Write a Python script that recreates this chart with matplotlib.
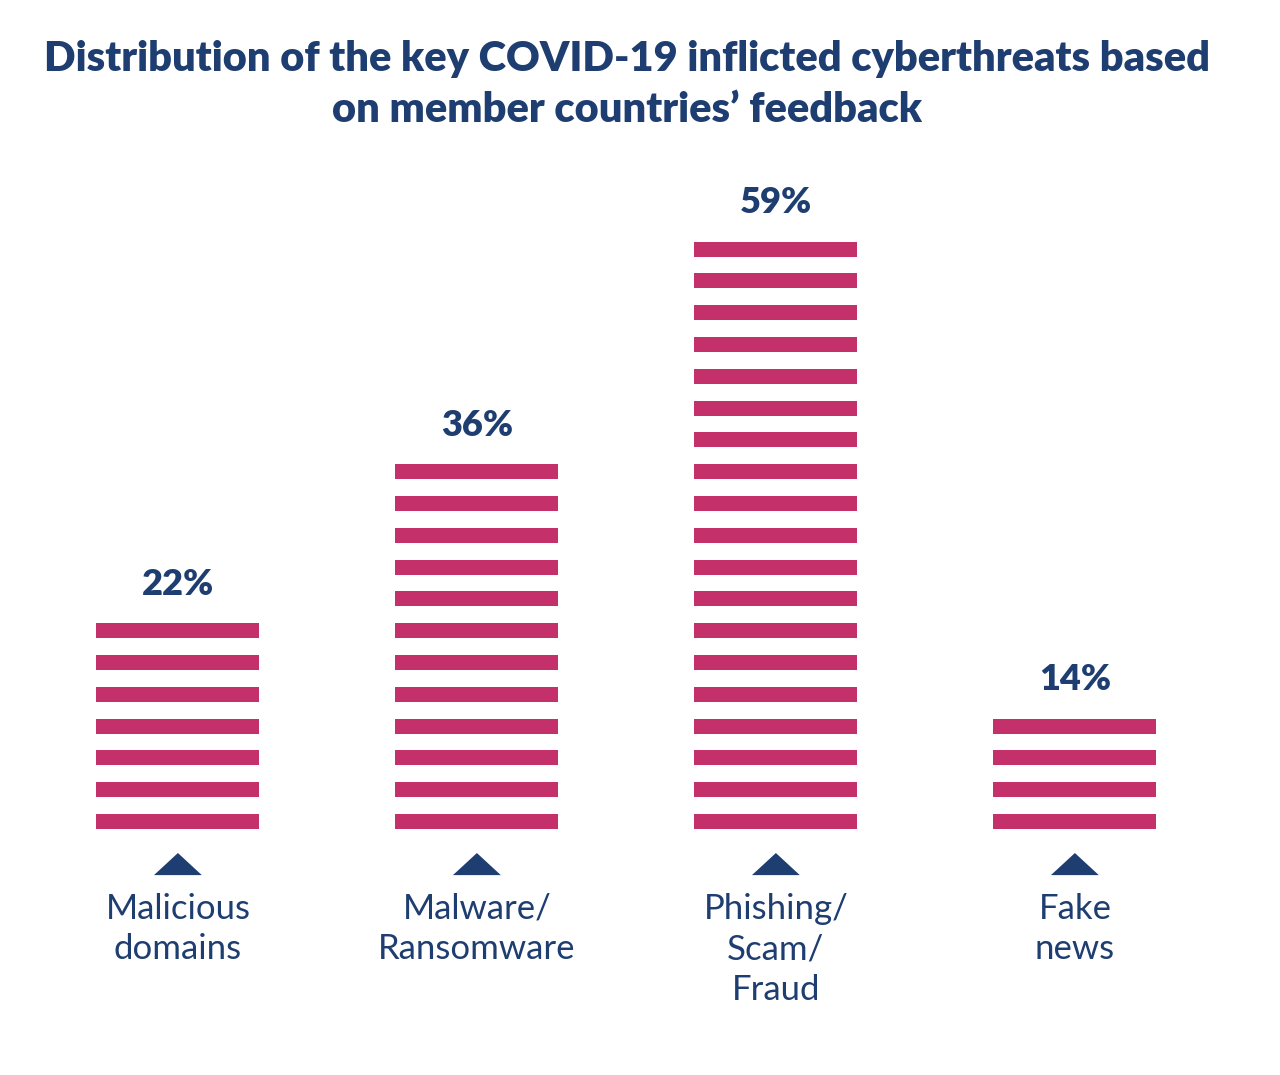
import matplotlib.pyplot as plt
from matplotlib.patches import Polygon

# data
categories = ["Malicious\ndomains", "Malware/\nRansomware", "Phishing/\nScam/\nFraud", "Fake\nnews"]
values = [22, 36, 59, 14]
stripe_counts = [7, 12, 19, 4]

title = "Distribution of the key COVID-19 inflicted cyberthreats based\non member countries\u2019 feedback"

pink = "#C3306A"
navy = "#1E3D70"

plt.rcParams['font.family'] = ['Lato', 'DejaVu Sans']

fig = plt.figure(figsize=(12.8, 10.75), dpi=100)
ax = fig.add_axes([0, 0, 1, 1])
ax.set_xlim(-0.595, 3.686)
ax.set_ylim(-7.736, 26.07)
ax.axis('off')

stripe_h = 0.47
bar_w = 0.545

for i, (val, n) in enumerate(zip(values, stripe_counts)):
    # each bar is a stack of thin stripes
    for k in range(n):
        ax.bar(i, stripe_h, bottom=k, width=bar_w, color=pink, linewidth=0)
    top = (n - 1) + stripe_h
    ax.text(i, top + 1.23, f"{val}%", ha='center', va='center',
            fontsize=26, fontweight='heavy', color=navy)
    # little pointer triangle under each bar
    tri = Polygon([(i - 0.08, -1.45), (i + 0.08, -1.45), (i, -0.755)],
                  closed=True, color=navy, linewidth=0)
    ax.add_patch(tri)
    ax.text(i, -2.0, categories[i], ha='center', va='top', fontsize=25,
            fontweight='normal', color=navy, linespacing=1.34)

fig.text(0.49, 0.9214, title, ha='center', va='center', fontsize=30,
         fontweight='heavy', color=navy, linespacing=1.43)

fig.savefig("out.png", dpi=100, facecolor='white')
